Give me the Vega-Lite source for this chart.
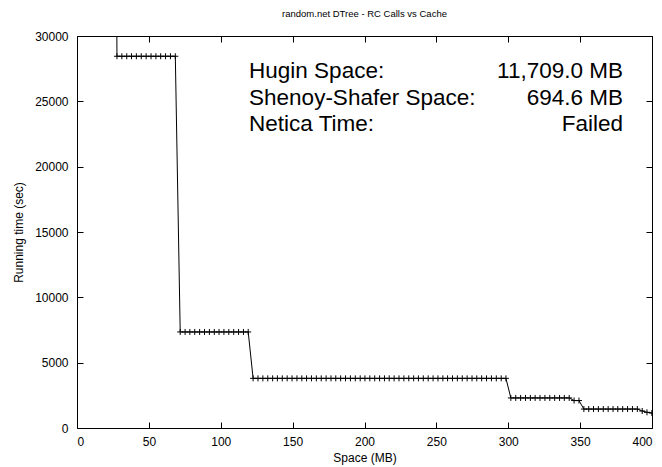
{
  "$schema": "https://vega.github.io/schema/vega-lite/v6.json",
  "width": 575,
  "height": 392,
  "autosize": {"type": "none"},
  "padding": {"left": 77, "top": 36, "right": 10, "bottom": 39},
  "title": {"text": "random.net DTree - RC Calls vs Cache", "fontSize": 9.5, "fontWeight": "normal", "font": "Liberation Sans", "color": "black", "offset": 12},
  "config": {
    "font": "Liberation Sans",
    "view": {"stroke": "black", "strokeWidth": 1},
    "axis": {"grid": false, "domain": false, "tickColor": "black", "labelColor": "black", "titleColor": "black", "labelFontSize": 12, "titleFontSize": 12, "titleFontWeight": "normal", "tickSize": -6, "labelFont": "Liberation Sans", "titleFont": "Liberation Sans"}
  },
  "datasets": {
    "runs": [
      {"space": 24.4, "time": 100000},
      {"space": 27.8, "time": 28450}, {"space": 31.2, "time": 28450}, {"space": 34.6, "time": 28450}, {"space": 37.9, "time": 28450},
      {"space": 41.3, "time": 28450}, {"space": 44.7, "time": 28450}, {"space": 48.1, "time": 28450}, {"space": 51.5, "time": 28450},
      {"space": 54.9, "time": 28450}, {"space": 58.2, "time": 28450}, {"space": 61.6, "time": 28450}, {"space": 65.0, "time": 28450},
      {"space": 68.4, "time": 28450},
      {"space": 71.8, "time": 7350}, {"space": 75.2, "time": 7350}, {"space": 78.5, "time": 7350}, {"space": 81.9, "time": 7350},
      {"space": 85.3, "time": 7350}, {"space": 88.7, "time": 7350}, {"space": 92.1, "time": 7350}, {"space": 95.5, "time": 7350},
      {"space": 98.8, "time": 7350}, {"space": 102.2, "time": 7350}, {"space": 105.6, "time": 7350}, {"space": 109.0, "time": 7350},
      {"space": 112.4, "time": 7350}, {"space": 115.8, "time": 7350}, {"space": 119.1, "time": 7350},
      {"space": 122.5, "time": 3800}, {"space": 125.9, "time": 3800}, {"space": 129.3, "time": 3800}, {"space": 132.7, "time": 3800},
      {"space": 136.1, "time": 3800}, {"space": 139.4, "time": 3800}, {"space": 142.8, "time": 3800}, {"space": 146.2, "time": 3800},
      {"space": 149.6, "time": 3800}, {"space": 153.0, "time": 3800}, {"space": 156.4, "time": 3800}, {"space": 159.7, "time": 3800},
      {"space": 163.1, "time": 3800}, {"space": 166.5, "time": 3800}, {"space": 169.9, "time": 3800}, {"space": 173.3, "time": 3800},
      {"space": 176.7, "time": 3800}, {"space": 180.0, "time": 3800}, {"space": 183.4, "time": 3800}, {"space": 186.8, "time": 3800},
      {"space": 190.2, "time": 3800}, {"space": 193.6, "time": 3800}, {"space": 197.0, "time": 3800}, {"space": 200.3, "time": 3800},
      {"space": 203.7, "time": 3800}, {"space": 207.1, "time": 3800}, {"space": 210.5, "time": 3800}, {"space": 213.9, "time": 3800},
      {"space": 217.2, "time": 3800}, {"space": 220.6, "time": 3800}, {"space": 224.0, "time": 3800}, {"space": 227.4, "time": 3800},
      {"space": 230.8, "time": 3800}, {"space": 234.2, "time": 3800}, {"space": 237.5, "time": 3800}, {"space": 240.9, "time": 3800},
      {"space": 244.3, "time": 3800}, {"space": 247.7, "time": 3800}, {"space": 251.1, "time": 3800}, {"space": 254.5, "time": 3800},
      {"space": 257.8, "time": 3800}, {"space": 261.2, "time": 3800}, {"space": 264.6, "time": 3800}, {"space": 268.0, "time": 3800},
      {"space": 271.4, "time": 3800}, {"space": 274.8, "time": 3800}, {"space": 278.1, "time": 3800}, {"space": 281.5, "time": 3800},
      {"space": 284.9, "time": 3800}, {"space": 288.3, "time": 3800}, {"space": 291.7, "time": 3800}, {"space": 295.1, "time": 3800},
      {"space": 298.4, "time": 3800},
      {"space": 301.8, "time": 2300}, {"space": 305.2, "time": 2300}, {"space": 308.6, "time": 2300}, {"space": 312.0, "time": 2300},
      {"space": 315.4, "time": 2300}, {"space": 318.7, "time": 2300}, {"space": 322.1, "time": 2300}, {"space": 325.5, "time": 2300},
      {"space": 328.9, "time": 2300}, {"space": 332.3, "time": 2300}, {"space": 335.7, "time": 2300}, {"space": 339.0, "time": 2300},
      {"space": 342.4, "time": 2300},
      {"space": 345.8, "time": 2100}, {"space": 349.2, "time": 2100},
      {"space": 352.6, "time": 1450}, {"space": 356.0, "time": 1450}, {"space": 359.3, "time": 1450}, {"space": 362.7, "time": 1450},
      {"space": 366.1, "time": 1450}, {"space": 369.5, "time": 1450}, {"space": 372.9, "time": 1450}, {"space": 376.2, "time": 1450},
      {"space": 379.6, "time": 1450}, {"space": 383.0, "time": 1450}, {"space": 386.4, "time": 1450}, {"space": 389.8, "time": 1450},
      {"space": 393.2, "time": 1300}, {"space": 396.5, "time": 1200}, {"space": 399.9, "time": 1150}
    ]
  },
  "data": {"name": "runs"},
  "resolve": {"axis": {"x": "independent", "y": "independent"}},
  "layer": [
    {
      "mark": {"type": "line", "color": "black", "strokeWidth": 1, "clip": true},
      "encoding": {
        "x": {"field": "space", "type": "quantitative", "scale": {"domain": [0, 400], "nice": false, "zero": false},
              "axis": {"title": "Space (MB)", "values": [0, 50, 100, 150, 200, 250, 300, 350, 400], "format": "d", "labelPadding": 14, "titlePadding": 5, "orient": "bottom"}},
        "y": {"field": "time", "type": "quantitative", "scale": {"domain": [0, 30000], "nice": false, "zero": false},
              "axis": {"title": "Running time (sec)", "values": [0, 5000, 10000, 15000, 20000, 25000, 30000], "format": "d", "labelPadding": 15, "titlePadding": 9, "orient": "left"}}
      }
    },
    {
      "mark": {"type": "point", "shape": "M-1,0L1,0M0,-1L0,1", "filled": false, "stroke": "black", "strokeWidth": 1, "size": 36, "opacity": 1, "clip": true},
      "encoding": {
        "x": {"field": "space", "type": "quantitative", "axis": {"orient": "top", "labels": false, "title": null, "values": [0, 50, 100, 150, 200, 250, 300, 350, 400]}},
        "y": {"field": "time", "type": "quantitative", "axis": {"orient": "right", "labels": false, "title": null, "values": [0, 5000, 10000, 15000, 20000, 25000, 30000]}}
      }
    },
    {
      "data": {"values": [{}]},
      "mark": {"type": "text", "align": "left", "baseline": "alphabetic", "fontSize": 22.5, "lineHeight": 26.5, "color": "black", "font": "Liberation Sans"},
      "encoding": {
        "x": {"datum": 119.7, "type": "quantitative", "axis": null},
        "y": {"datum": 26750, "type": "quantitative", "axis": null},
        "text": {"value": ["Hugin Space:", "Shenoy-Shafer Space:", "Netica Time:"]}
      }
    },
    {
      "data": {"values": [{}]},
      "mark": {"type": "text", "align": "right", "baseline": "alphabetic", "fontSize": 22.5, "lineHeight": 26.5, "color": "black", "font": "Liberation Sans"},
      "encoding": {
        "x": {"datum": 379.8, "type": "quantitative", "axis": null},
        "y": {"datum": 26750, "type": "quantitative", "axis": null},
        "text": {"value": ["11,709.0 MB", "694.6 MB", "Failed"]}
      }
    }
  ]
}
